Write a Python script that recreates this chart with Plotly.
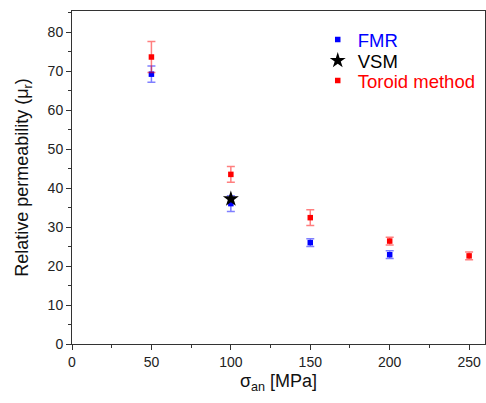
import plotly.graph_objects as go

fmr_x = [50, 100, 150, 200]
fmr_y = [69.2, 36.0, 26.0, 22.9]
fmr_err = [2.1, 2.0, 1.0, 1.0]

vsm_x = [100]
vsm_y = [37.2]

tor_x = [50, 100, 150, 200, 250]
tor_y = [73.6, 43.5, 32.4, 26.4, 22.6]
tor_err = [4.0, 2.0, 2.0, 1.0, 1.0]

fig = go.Figure()
fig.add_trace(go.Scatter(
    x=fmr_x, y=fmr_y, mode="markers", name="<span style='color:#0000ff'>FMR</span>",
    marker=dict(symbol="square", size=5.5, color="#0000ff"),
    error_y=dict(type="data", array=fmr_err, color="rgba(0,0,255,0.5)", thickness=1.5, width=4),
    legend="legend",
))
fig.add_trace(go.Scatter(
    x=vsm_x, y=vsm_y, mode="markers", name="<span style='color:#000000'>VSM</span>",
    marker=dict(symbol="star", size=12, color="black"),
    legend="legend2",
))
fig.add_trace(go.Scatter(
    x=tor_x, y=tor_y, mode="markers", name="<span style='color:#ff0000'>Toroid method</span>",
    marker=dict(symbol="square", size=5.5, color="#ff0000"),
    error_y=dict(type="data", array=tor_err, color="rgba(255,0,0,0.5)", thickness=1.5, width=4),
    legend="legend3",
))

font = "Liberation Sans, Arial, sans-serif"
leg = dict(x=0.595, xanchor="left", yanchor="middle", font=dict(size=18.5),
           bgcolor="rgba(0,0,0,0)", itemwidth=30)
fig.update_layout(
    width=486, height=403,
    margin=dict(l=72, r=1, t=11, b=59),
    plot_bgcolor="white", paper_bgcolor="white",
    font=dict(family=font, size=14, color="#222"),
    showlegend=True,
    legend=dict(leg, y=0.913),
    legend2=dict(leg, y=0.850),
    legend3=dict(leg, y=0.790),
    xaxis=dict(range=[0, 260], tickvals=[0, 50, 100, 150, 200, 250],
               showgrid=False, zeroline=False, showline=True, linecolor="#333",
               linewidth=1, mirror=True, ticks="outside", ticklen=5, tickcolor="#333",
               minor=dict(tickvals=[25, 75, 125, 175, 225], ticks="outside", ticklen=3, tickcolor="#333"),
               title=dict(text="σ<sub>an</sub> [MPa]", font=dict(size=18, color="#111"), standoff=5)),
    yaxis=dict(range=[0, 85.4], tickvals=[0, 10, 20, 30, 40, 50, 60, 70, 80],
               showgrid=False, zeroline=False, showline=True, linecolor="#333",
               linewidth=1, mirror=True, ticks="outside", ticklen=5, tickcolor="#333",
               minor=dict(tickvals=[5, 15, 25, 35, 45, 55, 65, 75, 85], ticks="outside", ticklen=3, tickcolor="#333"),
               title=dict(text="Relative permeability (μ<sub>r</sub>)", font=dict(size=18, color="#111"), standoff=14)),
)
fig.write_html("out.html")
